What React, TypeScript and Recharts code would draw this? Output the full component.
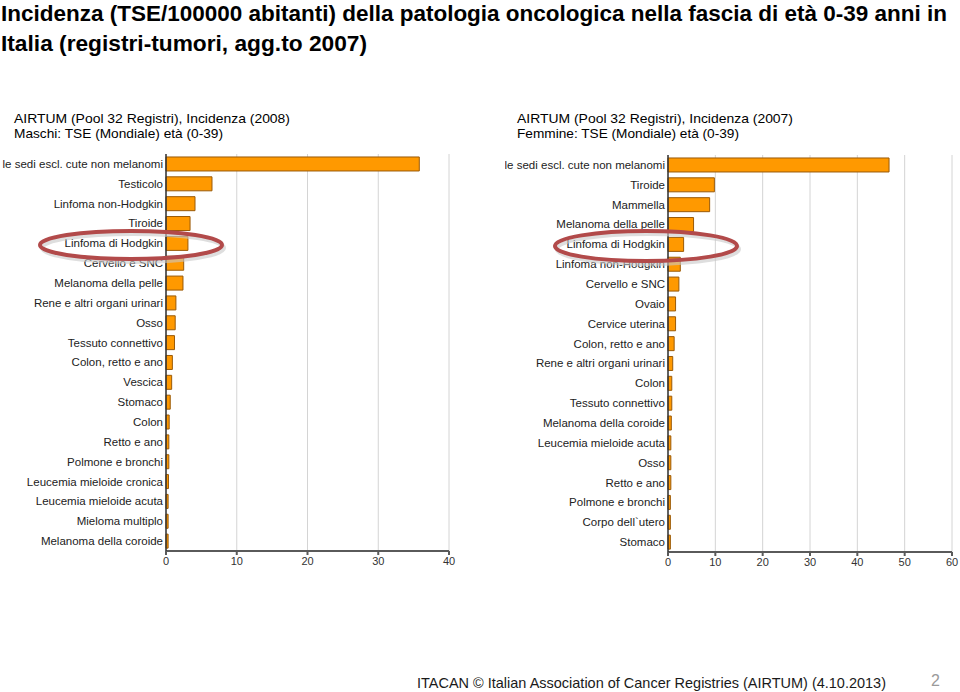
import React from 'react';
import { BarChart, Bar, XAxis, YAxis, CartesianGrid } from 'recharts';

// Maschi 0-39, pool 32 registri (2008)
const maleSites = [
  'Tutte le sedi escl. cute non melanomi',
  'Testicolo',
  'Linfoma non-Hodgkin',
  'Tiroide',
  'Linfoma di Hodgkin',
  'Cervello e SNC',
  'Melanoma della pelle',
  'Rene e altri organi urinari',
  'Osso',
  'Tessuto connettivo',
  'Colon, retto e ano',
  'Vescica',
  'Stomaco',
  'Colon',
  'Retto e ano',
  'Polmone e bronchi',
  'Leucemia mieloide cronica',
  'Leucemia mieloide acuta',
  'Mieloma multiplo',
  'Melanoma della coroide',
];
const maleRates = [35.8, 6.5, 4.1, 3.4, 3.1, 2.5, 2.4, 1.4, 1.3, 1.2, 0.9, 0.8, 0.6, 0.45, 0.4, 0.4, 0.35, 0.3, 0.3, 0.3];
const maleTicks = [0, 10, 20, 30, 40];

// Femmine 0-39 (2007)
const femaleSites = [
  'Tutte le sedi escl. cute non melanomi',
  'Tiroide',
  'Mammella',
  'Melanoma della pelle',
  'Linfoma di Hodgkin',
  'Linfoma non-Hodgkin',
  'Cervello e SNC',
  'Ovaio',
  'Cervice uterina',
  'Colon, retto e ano',
  'Rene e altri organi urinari',
  'Colon',
  'Tessuto connettivo',
  'Melanoma della coroide',
  'Leucemia mieloide acuta',
  'Osso',
  'Retto e ano',
  'Polmone e bronchi',
  'Corpo dell`utero',
  'Stomaco',
];
const femaleRates = [46.7, 9.8, 8.8, 5.4, 3.3, 2.6, 2.3, 1.6, 1.6, 1.3, 1.0, 0.8, 0.8, 0.7, 0.6, 0.6, 0.6, 0.5, 0.5, 0.5];
const femaleTicks = [0, 10, 20, 30, 40, 50, 60];

const toRows = (sites: string[], rates: number[]) =>
  sites.map((name, i) => ({ name, tse: rates[i] }));

const labelFont = '"Liberation Sans", Arial, sans-serif';

// single-line category label (recharts would wrap the long ones)
const SiteTick = (props: any) => {
  const { x, y, payload } = props;
  return (
    <text x={x} y={y} dy={4} textAnchor="end" fill="#222" fontSize={11.5} fontFamily={labelFont}>
      {payload.value}
    </text>
  );
};

interface SiteChartProps {
  data: Array<{ name: string; tse: number }>;
  ticks: number[];
  width: number;
  height: number;
  yWidth: number;
  margin: { top: number; right: number; bottom: number; left: number };
}

const SiteChart = ({ data, ticks, width, height, yWidth, margin }: SiteChartProps) => (
  <BarChart layout="vertical" width={width} height={height} data={data} margin={margin} barCategoryGap="15%">
    <CartesianGrid horizontal={false} stroke="#d4d4d4" />
    <XAxis
      type="number"
      domain={[ticks[0], ticks[ticks.length - 1]]}
      ticks={ticks}
      height={20}
      tickSize={4}
      tickMargin={2}
      stroke="#5a5a5a"
      strokeWidth={2}
      tick={{ fill: '#333', fontSize: 11, fontFamily: labelFont }}
    />
    <YAxis
      type="category"
      dataKey="name"
      width={yWidth}
      interval={0}
      tickLine={false}
      tickSize={0}
      tickMargin={3}
      stroke="#333"
      strokeWidth={1.5}
      tick={SiteTick}
    />
    <Bar dataKey="tse" fill="#FF9900" stroke="#9a5a08" strokeWidth={1} isAnimationActive={false} />
  </BarChart>
);

const App = () => {
  const maleRows = toRows(maleSites, maleRates);
  const femaleRows = toRows(femaleSites, femaleRates);

  return (
    <div style={{ position: 'absolute', left: 0, top: 0, width: 960, height: 692, background: '#fff', overflow: 'hidden' }}>
      <div style={{ position: 'absolute', left: 0, top: 145, width: 460, height: 440, overflow: 'hidden' }}>
        <SiteChart
          data={maleRows}
          ticks={maleTicks}
          width={460}
          height={440}
          yWidth={166}
          margin={{ top: 9, right: 11, bottom: 14, left: 0 }}
        />
      </div>
      <div style={{ position: 'absolute', left: 505, top: 145, width: 455, height: 440, overflow: 'hidden' }}>
        <SiteChart
          data={femaleRows}
          ticks={femaleTicks}
          width={455}
          height={440}
          yWidth={163}
          margin={{ top: 10, right: 8, bottom: 13, left: 0 }}
        />
      </div>

      {/* titles, notes and the hand-drawn highlight rings */}
      <svg width={960} height={692} style={{ position: 'absolute', left: 0, top: 0, pointerEvents: 'none' }}>
        <g fontFamily={labelFont} fontWeight="bold" fontSize={22} fill="#000">
          <text x={1} y={21} textLength={946} lengthAdjust="spacingAndGlyphs">
            Incidenza (TSE/100000 abitanti) della patologia oncologica nella fascia di età 0-39 anni in
          </text>
          <text x={1} y={51} textLength={366} lengthAdjust="spacingAndGlyphs">
            Italia (registri-tumori, agg.to 2007)
          </text>
        </g>
        <g fontFamily={labelFont} fontSize={13.5} fill="#000">
          <text x={14} y={123} textLength={276} lengthAdjust="spacingAndGlyphs">AIRTUM (Pool 32 Registri), Incidenza (2008)</text>
          <text x={14} y={138} textLength={209} lengthAdjust="spacingAndGlyphs">Maschi: TSE (Mondiale) età (0-39)</text>
          <text x={517} y={123} textLength={276} lengthAdjust="spacingAndGlyphs">AIRTUM (Pool 32 Registri), Incidenza (2007)</text>
          <text x={517} y={138} textLength={222} lengthAdjust="spacingAndGlyphs">Femmine: TSE (Mondiale) età (0-39)</text>
        </g>
        <g fill="none" strokeWidth={4}>
          <ellipse cx={133} cy={248} rx={91} ry={14} stroke="#c8c8c8" opacity={0.6} />
          <ellipse cx={131} cy={245} rx={91} ry={14} stroke="#b24a4a" />
          <ellipse cx={648} cy={249} rx={91} ry={15} stroke="#c8c8c8" opacity={0.6} />
          <ellipse cx={646} cy={246} rx={91} ry={15} stroke="#b24a4a" />
        </g>
        <text x={417} y={688} fontFamily={labelFont} fontSize={15} fill="#1a1a1a" textLength={469} lengthAdjust="spacingAndGlyphs">
          ITACAN © Italian Association of Cancer Registries (AIRTUM) (4.10.2013)
        </text>
        <text x={931} y={686} fontFamily={labelFont} fontSize={16} fill="#9a9a9a">2</text>
      </svg>
    </div>
  );
};

export default App;
